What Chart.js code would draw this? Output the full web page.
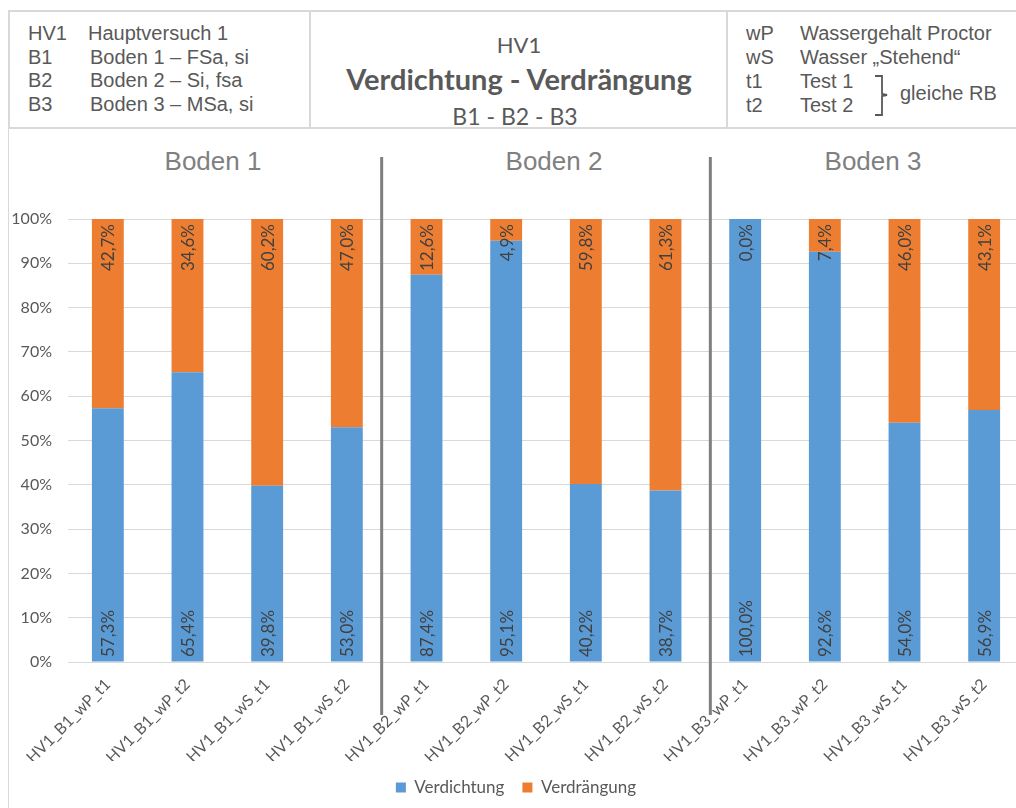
<!DOCTYPE html>
<html>
<head>
<meta charset="utf-8">
<script src="https://cdn.jsdelivr.net/npm/chart.js@4/dist/chart.umd.min.js"></script>
<style>
  html, body { margin: 0; padding: 0; background: #fff; overflow: hidden; }
  body { width: 1016px; height: 808px; position: relative; }
  .box { position: absolute; top: 10px; height: 119px; border: 2px solid #d9d9d9; box-sizing: border-box; }
  .txt { position: absolute; font-family: "Liberation Sans", Arial, sans-serif; font-size: 20px; color: #595959; line-height: 24px; white-space: nowrap; }
  .cal { position: absolute; font-family: Lato, "Open Sans", sans-serif; color: #595959; white-space: nowrap; transform: translateX(-50%); }
  .grp { position: absolute; top: 146px; font-family: "Liberation Sans", Arial, sans-serif; font-size: 26px; color: #808080; transform: translateX(-50%); white-space: nowrap; }
  #frame { position: absolute; left: 8px; top: 128px; width: 1px; height: 680px; background: #d9d9d9; }
  #wrap { position: absolute; left: 8px; top: 131px; width: 1022px; height: 677px; }
</style>
</head>
<body>
<div class="box" style="left:8px; width:303px;"></div>
<div class="box" style="left:309px; width:419px;"></div>
<div class="box" style="left:726px; width:300px;"></div>
<div id="frame"></div>

<div class="txt" style="left:28px; top:21px;">HV1</div>
<div class="txt" style="left:88px; top:21px;">Hauptversuch 1</div>
<div class="txt" style="left:28px; top:45px;">B1</div>
<div class="txt" style="left:90px; top:45px;">Boden 1 – FSa, si</div>
<div class="txt" style="left:28px; top:68px;">B2</div>
<div class="txt" style="left:90px; top:68px;">Boden 2 – Si, fsa</div>
<div class="txt" style="left:28px; top:92px;">B3</div>
<div class="txt" style="left:90px; top:92px;">Boden 3 – MSa, si</div>

<div class="cal" style="left:519px; top:31px; font-size:22px;">HV1</div>
<div class="cal" style="left:519px; top:61px; font-size:29px; font-weight:bold;">Verdichtung - Verdrängung</div>
<div class="cal" style="left:515px; top:102px; font-size:23px;">B1 - B2 - B3</div>

<div class="txt" style="left:746px; top:21px;">wP</div>
<div class="txt" style="left:800px; top:21px;">Wassergehalt Proctor</div>
<div class="txt" style="left:746px; top:45px;">wS</div>
<div class="txt" style="left:800px; top:45px;">Wasser „Stehend“</div>
<div class="txt" style="left:746px; top:69px;">t1</div>
<div class="txt" style="left:800px; top:69px;">Test 1</div>
<div class="txt" style="left:746px; top:93px;">t2</div>
<div class="txt" style="left:800px; top:93px;">Test 2</div>
<svg style="position:absolute; left:870px; top:74px;" width="30" height="44">
  <path d="M5 2 H12 V20 L17 21 L12 22 V41 H5" fill="none" stroke="#595959" stroke-width="1.8"/>
</svg>
<div class="txt" style="left:900px; top:81px;">gleiche RB</div>

<div id="groups"></div>

<div id="wrap"><canvas id="chart"></canvas></div>

<script>
const categories = [
  'HV1_B1_wP_t1', 'HV1_B1_wP_t2', 'HV1_B1_wS_t1', 'HV1_B1_wS_t2',
  'HV1_B2_wP_t1', 'HV1_B2_wP_t2', 'HV1_B2_wS_t1', 'HV1_B2_wS_t2',
  'HV1_B3_wP_t1', 'HV1_B3_wP_t2', 'HV1_B3_wS_t1', 'HV1_B3_wS_t2'
];
const verdichtung = [57.3, 65.4, 39.8, 53.0, 87.4, 95.1, 40.2, 38.7, 100.0, 92.6, 54.0, 56.9];
const verdraengung = [42.7, 34.6, 60.2, 47.0, 12.6, 4.9, 59.8, 61.3, 0.0, 7.4, 46.0, 43.1];
const groupNames = ['Boden 1', 'Boden 2', 'Boden 3'];
const groupCenters = [213, 554, 873];
const yTicks = [0, 10, 20, 30, 40, 50, 60, 70, 80, 90, 100];

const BLUE = '#5b9bd5';
const ORANGE = '#ed7d31';
const TEXT = '#595959';

const grpEl = document.getElementById('groups');
groupNames.forEach((name, i) => {
  const d = document.createElement('div');
  d.className = 'grp';
  d.style.left = groupCenters[i] + 'px';
  d.textContent = name;
  grpEl.appendChild(d);
});

function pct(v) {
  return v.toFixed(1).replace('.', ',') + '%';
}

// values written vertically inside the bars
const barLabels = {
  id: 'barLabels',
  afterDatasetsDraw(chart) {
    const ctx = chart.ctx;
    const y = chart.scales.y;
    ctx.save();
    ctx.font = '17px Lato, sans-serif';
    ctx.fillStyle = '#404040';
    ctx.textBaseline = 'middle';
    chart.data.datasets.forEach((ds, di) => {
      const meta = chart.getDatasetMeta(di);
      meta.data.forEach((bar, i) => {
        ctx.save();
        if (di === 0) {
          ctx.translate(bar.x, y.getPixelForValue(0) - 5);
          ctx.rotate(-Math.PI / 2);
          ctx.textAlign = 'left';
        } else {
          ctx.translate(bar.x, y.getPixelForValue(100) + 5);
          ctx.rotate(-Math.PI / 2);
          ctx.textAlign = 'right';
        }
        ctx.fillText(pct(ds.data[i]), 0, 1);
        ctx.restore();
      });
    });
    ctx.restore();
  }
};

// grey dividers between the three soil groups
const dividers = {
  id: 'dividers',
  afterDraw(chart) {
    const x = chart.scales.x;
    const ctx = chart.ctx;
    const cuts = [[3, -5], [7, 5]];
    ctx.save();
    ctx.strokeStyle = '#7f7f7f';
    ctx.lineWidth = 3;
    cuts.forEach(([i, off]) => {
      const px = (x.getPixelForValue(i) + x.getPixelForValue(i + 1)) / 2 + off;
      ctx.beginPath();
      ctx.moveTo(px, 26);
      ctx.lineTo(px, 584);
      ctx.stroke();
    });
    ctx.restore();
  }
};

new Chart(document.getElementById('chart'), {
  type: 'bar',
  data: {
    labels: categories,
    datasets: [
      { label: 'Verdichtung', data: verdichtung, backgroundColor: BLUE },
      { label: 'Verdrängung', data: verdraengung, backgroundColor: ORANGE }
    ]
  },
  options: {
    responsive: true,
    maintainAspectRatio: false,
    animation: false,
    layout: { padding: { top: 88, right: 6, left: 0, bottom: 2 } },
    datasets: { bar: { barPercentage: 0.4, categoryPercentage: 1 } },
    scales: {
      x: {
        stacked: true,
        grid: { display: false },
        border: { display: false },
        ticks: {
          color: TEXT,
          font: { family: 'Lato', size: 16 },
          minRotation: 45,
          maxRotation: 45,
          padding: 5,
          autoSkip: false
        },
        afterFit(scale) { scale.height = 99; }
      },
      y: {
        stacked: true,
        min: 0,
        max: 100,
        afterBuildTicks(scale) { scale.ticks = yTicks.map(v => ({ value: v })); },
        grid: { color: '#d9d9d9', drawTicks: false },
        border: { display: false },
        ticks: {
          color: TEXT,
          font: { family: 'Lato', size: 16 },
          padding: 16,
          callback: v => v + '%'
        },
        afterFit(scale) { scale.width = 60; }
      }
    },
    plugins: {
      legend: {
        position: 'bottom',
        labels: {
          color: TEXT,
          font: { family: 'Lato', size: 17 },
          boxWidth: 10,
          boxHeight: 10,
          padding: 18
        }
      },
      tooltip: { enabled: false }
    }
  },
  plugins: [barLabels, dividers]
});
</script>
</body>
</html>
